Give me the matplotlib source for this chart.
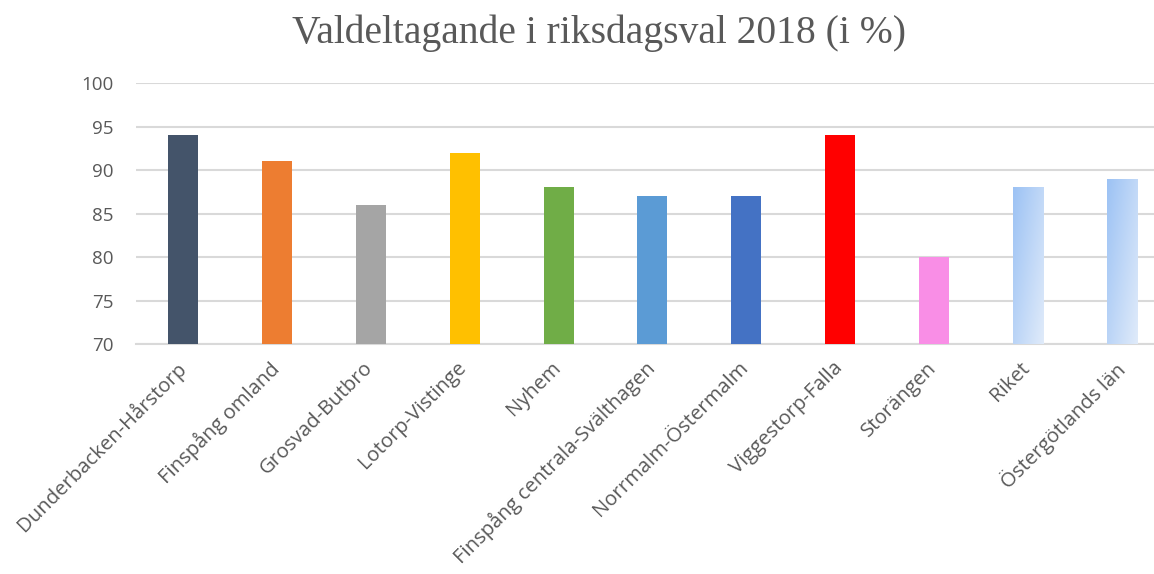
import matplotlib.pyplot as plt
import numpy as np
from matplotlib.colors import LinearSegmentedColormap
from matplotlib.transforms import ScaledTranslation

plt.rcParams['font.family'] = ['Open Sans', 'DejaVu Sans']

# data
areas = ["Dunderbacken-Hårstorp", "Finspång omland", "Grosvad-Butbro", "Lotorp-Vistinge",
         "Nyhem", "Finspång centrala-Svälthagen", "Norrmalm-Östermalm", "Viggestorp-Falla",
         "Storängen", "Riket", "Östergötlands län"]
turnout = [94, 91, 86, 92, 88, 87, 87, 94, 80, 88, 89]
bar_colors = ["#44546A", "#ED7D31", "#A5A5A5", "#FFC000", "#70AD47", "#5B9BD5",
              "#4472C4", "#FF0000", "#F98EE6", None, None]
yticks = [70, 75, 80, 85, 90, 95, 100]

W, H = 1154, 574
fig = plt.figure(figsize=(W / 100, H / 100), dpi=100)
# plot area: left 136px, top 83px, bottom 344px; categories 94px apart
left, top, bottom, step = 136, 83, 344, 93.9
ax = fig.add_axes([left / W, 1 - bottom / H, (W - left) / W, (bottom - top) / H])

x = np.arange(len(areas))
width = 0.32
bars = ax.bar(x, [v - 70 for v in turnout], bottom=70, width=width,
              color=[c if c else "none" for c in bar_colors], zorder=3)

# gradient fill for the last two bars
grad_cmap = LinearSegmentedColormap.from_list("lb", ["#9CC2F4", "#E0EBFA"])
gx, gy = np.meshgrid(np.linspace(0, 1, 50), np.linspace(0, 1, 200))
grad = 0.55 * gx + 0.45 * gy
for i, c in enumerate(bar_colors):
    if c is None:
        b = bars[i]
        im = ax.imshow(grad, cmap=grad_cmap, aspect="auto", zorder=3,
                       extent=[b.get_x(), b.get_x() + b.get_width(), 70, turnout[i]])
        im.set_clip_path(b)

ax.set_xlim(-0.5, -0.5 + (W - left) / step)
ax.set_ylim(70, 100)
ax.set_yticks(yticks)
ax.grid(axis="y", color="#D9D9D9", linewidth=1.5, zorder=0)
for s in ["top", "right", "left"]:
    ax.spines[s].set_visible(False)
ax.spines["bottom"].set_color("#D9D9D9")
ax.spines["bottom"].set_linewidth(1.5)
ax.tick_params(length=0, labelsize=13.5, labelcolor="#595959")
ax.tick_params(axis="y", pad=16)
ax.set_xticks(x)
ax.set_xticklabels(areas, rotation=45, ha="right", rotation_mode="anchor", fontsize=14.6)
ax.tick_params(axis="x", pad=10)
shift = ScaledTranslation(-8 / 100, 0, fig.dpi_scale_trans)
for lbl in ax.get_xticklabels():
    lbl.set_transform(lbl.get_transform() + shift)

fig.text(599 / W, 1 - 33 / H, "Valdeltagande i riksdagsval 2018 (i %)", ha="center", va="center",
         fontsize=28.5, color="#595959", family=["Liberation Serif", "DejaVu Serif"])

fig.savefig("out.png", dpi=100)
